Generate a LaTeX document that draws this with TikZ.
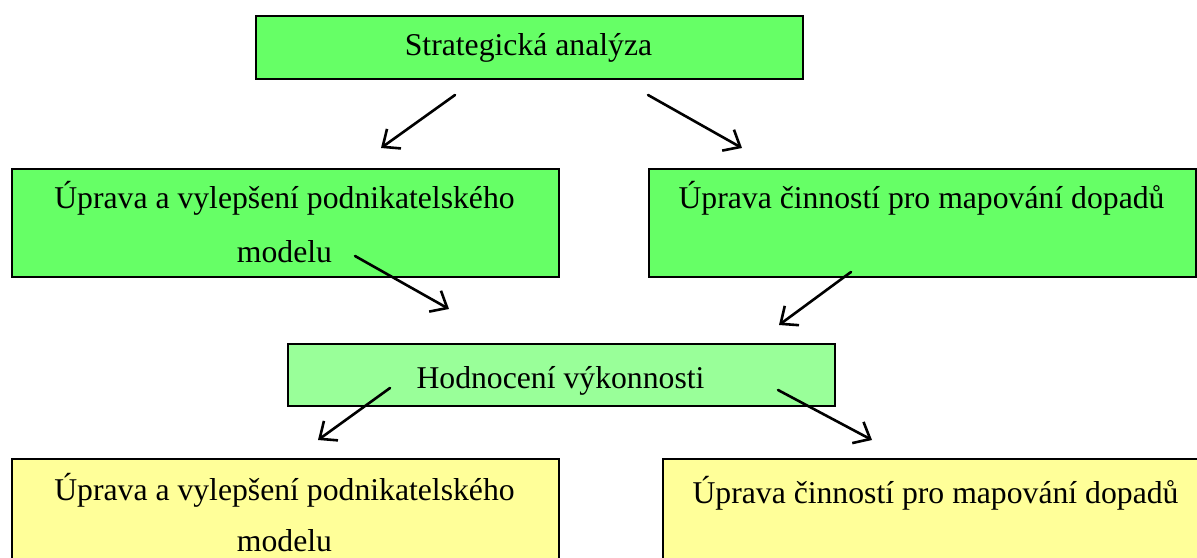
\documentclass[tikz,border=0pt]{standalone}
\usepackage{fontspec}
\setmainfont{Liberation Serif}
\usetikzlibrary{arrows.meta}
\definecolor{boxgreen}{RGB}{102,255,102}
\definecolor{boxlight}{RGB}{153,255,153}
\definecolor{boxyellow}{RGB}{255,255,153}
\tikzset{
  box/.style={draw=black, line width=1.5pt, minimum width=547pt, inner sep=0pt, anchor=north west},
  gbox/.style={box, fill=boxgreen},
  lbox/.style={box, fill=boxlight},
  ybox/.style={box, fill=boxyellow},
  txt/.style={inner sep=0pt, anchor=base, font=\fontsize{31.7}{38}\selectfont},
  conn/.style={line width=2.6pt, line cap=round, -{Straight Barb[length=14pt,width=24pt,line width=2.6pt]}}
}
\begin{document}
\begin{tikzpicture}[x=1pt,y=-1pt]
\clip (0,0) rectangle (1197,557);
\fill[white] (0,0) rectangle (1197,557);
% boxes
\node[gbox, minimum height=63pt] (A) at (255,15) {};
\node[gbox, minimum height=108pt] (B) at (11,168) {};
\node[gbox, minimum height=108pt] (C) at (648,168) {};
\node[lbox, minimum height=62pt] (D) at (287,343) {};
\node[ybox, minimum height=130pt] (E) at (11,458) {};
\node[ybox, minimum height=130pt] (F) at (662,458) {};
% texts
\node[txt] (At) at (528.5,55) {Strategická analýza};
\node[txt] (Bt1) at (284.5,208) {Úprava a vylepšení podnikatelského};
\node[txt] (Bt2) at (284.5,262) {modelu};
\node[txt] (Ct) at (921.5,208) {Úprava činností pro mapování dopadů};
\node[txt] (Dt) at (560.5,388) {Hodnocení výkonnosti};
\node[txt] (Et1) at (284.5,500) {Úprava a vylepšení podnikatelského};
\node[txt] (Et2) at (284.5,551) {modelu};
\node[txt] (Ft) at (935.5,503) {Úprava činností pro mapování dopadů};
% arrow end points
\coordinate (a1s) at (455,95);  \coordinate (a1e) at (381,148);
\coordinate (a2s) at (648,95);  \coordinate (a2e) at (742,148);
\coordinate (a3s) at (355,256); \coordinate (a3e) at (449,309);
\coordinate (a4s) at (851,272); \coordinate (a4e) at (779,325);
\coordinate (a5s) at (390,388); \coordinate (a5e) at (318,440);
\coordinate (a6s) at (778,390); \coordinate (a6e) at (872,440);
\draw[conn] (a1s) -- (a1e);
\draw[conn] (a2s) -- (a2e);
\draw[conn] (a3s) -- (a3e);
\draw[conn] (a4s) -- (a4e);
\draw[conn] (a5s) -- (a5e);
\draw[conn] (a6s) -- (a6e);
\end{tikzpicture}
\end{document}
